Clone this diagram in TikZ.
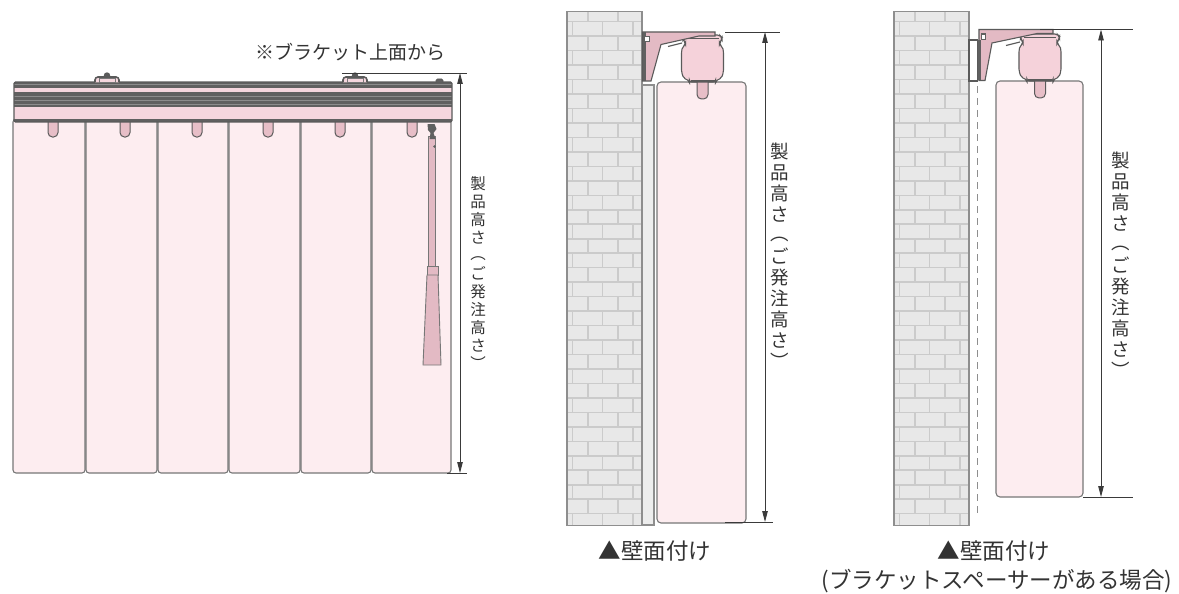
\documentclass[tikz,border=0pt]{standalone}
\usepackage{fontspec}
\usepackage{graphicx}
\newfontfamily\jp{Noto Sans CJK JP}
\usetikzlibrary{arrows.meta}

\definecolor{vanefill}{HTML}{FDEDF0}
\definecolor{railpink}{HTML}{F5D6DE}
\definecolor{raildark}{HTML}{606060}
\definecolor{raillite}{HTML}{8C8C8C}
\definecolor{canfill}{HTML}{F5D2DA}
\definecolor{brackfill}{HTML}{E3BAC4}
\definecolor{tabfill}{HTML}{E7BEC7}
\definecolor{outl}{HTML}{5A5A5A}
\definecolor{vaneline}{HTML}{777777}
\definecolor{brickfill}{HTML}{E8E8E8}
\definecolor{brickjoint}{HTML}{CBCBCB}
\definecolor{wallline}{HTML}{8E8E8E}
\definecolor{dimc}{HTML}{3A3A3A}
\definecolor{txt}{HTML}{333333}
\definecolor{stripfill}{HTML}{EDEDED}

\tikzset{
  vanebox/.style={draw=vaneline, fill=vanefill, line width=1.1pt, rounded corners=3pt},
  tabshape/.style={draw=outl, fill=tabfill, line width=1pt, rounded corners=4.5pt},
  dimline/.style={draw=dimc, line width=0.9pt},
  dimarrow/.style={dimline, {Triangle[length=11pt,width=5.5pt]}-{Triangle[length=11pt,width=5.5pt]}},
  joint/.style={draw=brickjoint, line width=1.6pt},
  tate/.style={font=\jp\fontsize{18.5}{21}\selectfont, align=center, inner sep=0pt, text=txt},
  tatesmall/.style={font=\jp\fontsize{15.5}{18}\selectfont, align=center, inner sep=0pt, text=txt},
  caption/.style={font=\jp\fontsize{22.5}{30}\selectfont, text=txt, inner sep=0pt},
  toplabel/.style={font=\jp\fontsize{19}{24}\selectfont, text=txt, inner sep=0pt},
  partline/.style={draw=outl, line width=1.1pt},
}

% vertical (tategaki) label, using the vertical presentation forms of the brackets
\newcommand\tatetext{製\\品\\高\\さ\\\raisebox{0.12em}{︵}\\ご\\発\\注\\高\\さ\\︶}

% brick wall, local origin at its top-left corner
\newcommand\brickwall{%
  \fill[brickfill] (0,0) rectangle (75,513.5);
  \foreach \k in {0,...,34} { \draw[joint] (0,10+14.47*\k) -- (75,10+14.47*\k); }
  \foreach \xx in {21,51} { \draw[joint] (\xx,0) -- (\xx,10); }
  \foreach \k in {0,...,34} {
    \pgfmathsetmacro\ya{10+14.47*\k}
    \pgfmathsetmacro\yb{min(10+14.47*(\k+1),513.5)}
    \ifodd\k
      \foreach \xx in {21,51} { \draw[joint] (\xx,\ya) -- (\xx,\yb); }
    \else
      \foreach \xx in {5.5,35.5,66} { \draw[joint] (\xx,\ya) -- (\xx,\yb); }
    \fi
  }
  \draw[draw=wallline, line width=1.3pt] (0,0) rectangle (75,513.5);
}

% headrail end view with its vane hanger: #1 centre x, #2 top y, #3 hanger bottom y
\newcommand\canister[3]{%
  \begin{scope}[shift={(#1,#2)}]
    \draw[tabshape] (-5.5,40) -- (-5.5,#3-#2) -- (5.5,#3-#2) -- (5.5,40);
    \draw[draw=outl, fill=canfill, line width=1.1pt, rounded corners=2pt]
      (-17,0) -- (17,0) -- (19.5,2.5) -- (19.5,5) -- (17,7.5) -- (17,9.5) -- (20,12)
      -- (21,16) -- (21,37) -- (19,43) -- (13,46) -- (13,47) -- (-13,47) -- (-13,46)
      -- (-19,43) -- (-21,37) -- (-21,16) -- (-20,12) -- (-17,9.5) -- (-17,7.5)
      -- (-19.5,5) -- (-19.5,2.5) -- cycle;
    \draw[draw=outl, line width=0.5pt] (-16,3.5) -- (16,3.5);
    \draw[draw=outl, line width=2pt] (-12,46.2) -- (12,46.2);
  \end{scope}
}

\begin{document}
\begin{tikzpicture}[x=1pt,y=-1pt]
\useasboundingbox (0,0) rectangle (1179,594);
\fill[white] (0,0) rectangle (1179,594);

% ================= front view =================
% vanes
\foreach \l/\r in {13/85,86/157,158/228,229/300,301/371,372/451}
  { \draw[vanebox] (\l,119) rectangle (\r,473); }
% vane hangers
\foreach \c in {53,125,197,268,340,412}
  { \draw[tabshape] (\c-5,118) -- (\c-5,137) -- (\c+5,137) -- (\c+5,118); }

% headrail
\fill[railpink] (14,82) rectangle (452,121.5);
\fill[raildark] (14,82) rectangle (452,88);
\draw[draw=raillite, line width=0.8pt] (14,84.3) -- (452,84.3);
\fill[raildark] (14,92.5) rectangle (452,107.5);
\foreach \yy in {96.5,100.5,104} { \draw[draw=raillite, line width=0.5pt] (14,\yy) -- (452,\yy); }
\fill[raildark] (14,119.3) rectangle (452,122);
\draw[draw=outl, line width=1.2pt, rounded corners=1.5pt] (14,82) rectangle (452,122);

% mounting brackets on the headrail
\foreach \c in {107,355} {
  \fill[outl] (\c,75.5) circle[radius=3.2];
  \draw[draw=outl, fill=railpink, line width=1.6pt, rounded corners=3pt]
    (\c-12,82.5) -- (\c-12,77) -- (\c+12,77) -- (\c+12,82.5);
  \draw[draw=vaneline, fill=railpink, line width=0.8pt] (\c-8,78.5) rectangle (\c+8,82.5);
}
% cord pulley cap
\draw[draw=outl, fill=raildark, line width=0.8pt, rounded corners=1.5pt] (436,82.5) -- (436,79) -- (443,79) -- (443,82.5);

% wand
\draw[draw=vaneline, fill=brackfill, line width=0.9pt] (428.5,136) rectangle (435.5,268);
\fill[raildark] (427.5,124) -- (434.5,124) -- (436.5,129) -- (433.5,133) -- (435.5,139) -- (429.5,139) -- (430.5,133) -- (428,130) -- cycle;
\fill[raildark] (434.5,146.5) circle[radius=1.3];
\draw[draw=vaneline, fill=brackfill, line width=0.9pt] (427,266) rectangle (438,275);
\draw[draw=vaneline, fill=brackfill, line width=0.9pt] (427,275) -- (438,275) -- (441,365) -- (423,365) -- cycle;

% height dimension
\coordinate (fTopL) at (342,73);
\coordinate (fTopR) at (467,73);
\coordinate (fBotL) at (447,473);
\coordinate (fBotR) at (467,473);
\coordinate (fA) at (460,73);
\coordinate (fB) at (460,473);
\draw[dimline] (fTopL) -- (fTopR);
\draw[dimline] (fBotL) -- (fBotR);
\draw[dimarrow] (fA) -- (fB);
\node[toplabel] (fLabel) at (350,52) {※ブラケット上面から};
\node[tatesmall] (fTate) at (478,273) {\tatetext};

% ================= side view: wall mount =================
\begin{scope}[shift={(567,11.7)}] \brickwall \end{scope}
\draw[draw=wallline, fill=stripfill, line width=1.1pt] (642,85) rectangle (654,525);
\draw[vanebox, rounded corners=4pt] (657,82) rectangle (746,523);
\canister{702.5}{35}{99}
% bracket
\draw[draw=outl, fill=brackfill, line width=1.1pt]
  (642.5,32) -- (715,32) -- (715,36) -- (699,36) -- (661,44.5) -- (651,81) -- (642.5,81) -- cycle;
\fill[raildark] (642.5,32) rectangle (645.5,81);
\draw[draw=raildark, fill=white, line width=1.3pt] (644.5,36.5) rectangle (649.5,41.5);
\draw[partline] (668,46.5) -- (682,43);
% dimension
\coordinate (mTopL) at (725,32);
\coordinate (mTopR) at (780,32);
\coordinate (mBotL) at (725,522);
\coordinate (mBotR) at (773,522);
\coordinate (mA) at (765,32);
\coordinate (mB) at (765,522);
\draw[dimline] (mTopL) -- (mTopR);
\draw[dimline] (mBotL) -- (mBotR);
\draw[dimarrow] (mA) -- (mB);
\node[tate] (mTate) at (780,256) {\tatetext};
\node[caption] (mCap) at (655,551) {▲壁面付け};

% ================= side view: wall mount with bracket spacer =================
\begin{scope}[shift={(894,11.7)}] \brickwall \end{scope}
\draw[draw=wallline, line width=1.1pt, dash pattern=on 7pt off 5pt] (977.5,86) -- (977.5,517);
\draw[vanebox, rounded corners=4pt] (996,81) rectangle (1083,497);
\canister{1040}{34}{98}
% spacer and bracket
\draw[draw=outl, fill=white, line width=1.1pt] (969,40) rectangle (977.5,81);
\draw[draw=outl, fill=brackfill, line width=1.1pt]
  (979,29.5) -- (1053,29.5) -- (1053,33.5) -- (1037,33.5) -- (992,43) -- (985,80.5) -- (979,80.5) -- cycle;
\fill[raildark] (977.5,40) rectangle (981,80.5);
\draw[draw=raildark, fill=white, line width=1.3pt] (981.5,34) rectangle (985.5,39.5);
\draw[partline] (1006,45.5) -- (1020,42);
% dimension
\coordinate (rTopL) at (1040,29.5);
\coordinate (rTopR) at (1133,29.5);
\coordinate (rBotL) at (1083,497);
\coordinate (rBotR) at (1133,497);
\coordinate (rA) at (1101,29.5);
\coordinate (rB) at (1101,497);
\draw[dimline] (rTopL) -- (rTopR);
\draw[dimline] (rBotL) -- (rBotR);
\draw[dimarrow] (rA) -- (rB);
\node[tate] (rTate) at (1121,265) {\tatetext};
\node[caption] (rCap) at (994,551) {▲壁面付け};
\node[caption] (rCap2) at (997,581) {(ブラケットスペーサーがある場合)};

\end{tikzpicture}
\end{document}
